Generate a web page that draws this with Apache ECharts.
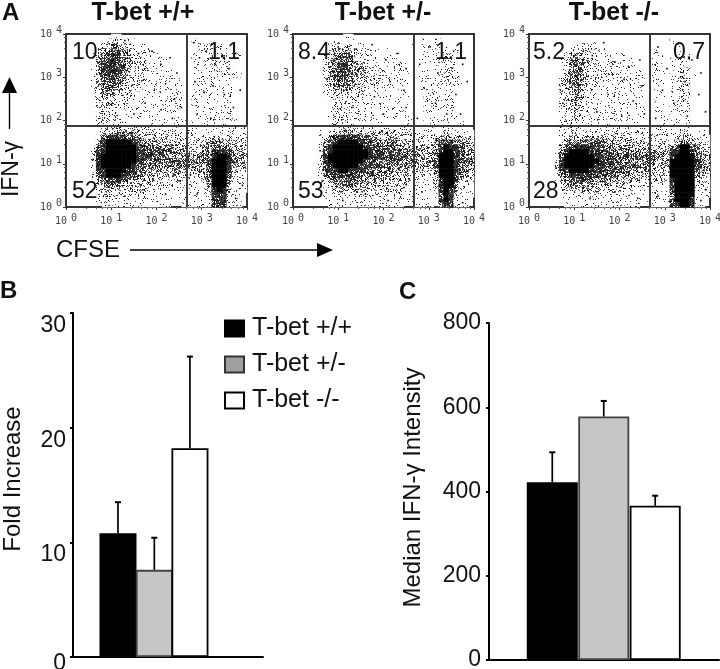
<!DOCTYPE html>
<html>
<head>
<meta charset="utf-8">
<style>html,body{margin:0;padding:0;background:#fff}#main{width:720px;height:669px}</style>
<script src="https://cdn.jsdelivr.net/npm/echarts@6/dist/echarts.min.js"></script>
</head>
<body>
<div id="main"></div>
<script>
// density, 36 x 36 cells, top row first, 0 = empty, 9 = solid black
let densityWT = [
"000000000110000000000000000000000000","000000012221110000000000010001000000",
"000000123443211100000000001111110000","000000245654311111000000011111111000",
"000001356765422111100000011111121110","000001467875422211110000011112211000",
"000001478876432211111000011112221000","000001478876432221111100011112211000",
"000001367765322211111100011111121110","000001356754322211111110011111111000",
"000001355653222111111110011111111000","000001245543222111111110011111111000",
"000001234432221111111110011111111000","000001233322211111111110011111011000",
"000001223322211111111110011110111000","000000222222111111111110001111111100",
"000000222221111111111110001111111000","000000222221111111111110001111111100",
"000000222221111111111111011111111100","000000123332222211111111111101111111",
"000000123344332222222222221111111111","000000268888654333332222112222223222",
"000000489999986544433332222234443332","000001689999998765544433322345654332",
"000002789999998766665544433457877443","000002899999998876665555544468998554",
"000002899999998766666666665579998654","000002899999987655555555554479998433",
"000001789999876544444444433369998322","000001589998765433333333322259997211",
"000000367776543333222222211259995111","000000245543333222222211111149994111",
"000000133332222222211111111138983111","000000123222222111111111111128882110",
"000000112221111111111111111117881110","000000011111111111111001111116771110"
];
let densityHet = [
"000000000011000000000000000000000000","000000001111110000000000010011000000",
"000000011222111000000001011111100000","000000012443211111100000011111111000",
"000000124654221111111000011111211000","000000135665322111111100011112221000",
"000000146775332211111110011112221000","000000247776433222111110011112331000",
"000000246775433222211110011112331000","000000246665333222111110011111221000",
"000000235554332221111110011111121100",
"000000134443222111111110011111110000","000000123332221111111110001111110000",
"000000022222211111111110001111110000","000000012222211111111110001111110000",
"000000012221111111111110001111110000","000000012221111111111110001111110000",
"000000012221111111111111001111111000","000000012221111111111111001111111100",
"000000012222211111111111011111111100","000001123344332222222221111111222111",
"000001247888876543333322222233443322","000001478999987655444333222245765432",
"000002689999998766555443333347987543","000002789999999876665544444458998654",
"000003899999999877666555444469998765","000003899999998777666655544469998765",
"000002789999987766655554443369998654","000002688998776655554443332259998543",
"000001467877665554443332222149997432","000001245666554443333222221138996211",
"000000134555443333322221111138995111","000000123333333322222211111128984111",
"000000122222222222211111111117983111","000000111111111111111111111117982110",
"000000011111111111111100111105871110"
];
let densityKO = [
"000000000000000000000000000000000000","000000000001010000000000000010000000",
"000000001111110000000000000001000000","000000012222111100000000010001100000",
"000000013432111111100000111001210000","000000124543121111111000111011210000",
"000000125653222221111100111011210000","000000125653222221111110111011320000",
"000000135653222221111110111011320100","000000235653222211111110111011320000",
"000000235643221111111110111011320000","000000234643211111111110111011310000",
"000000124532111111111110011011210000","000000123432111111111110011011210000",
"000000123322111111111110011011210000","000000122322111111111110011011210000",
"000000122322111111111110011011210000","000000122221111111111111011111110000",
"000000122221111111111111011111110000","000000122221111111111111111111210000",
"000000122222222222221111111111221110","000000123333333333322222222212332211",
"000000134556665443333332222213553221","000000367888776554444333322246996432",
"000001589999877665554444333378998543","000001799999988776665554443389999654",
"000002899999998776665555444399999764","000002899999988776665554443399999764",
"000001789999877665555444333299999653","000001578887766555444333332299999542",
"000001356665554444333322222189999321","000000244444433333322222111179999211",
"000000133333332222222111111179999111","000000122222222221111111111169999111",
"000000111111111111111111111169998110","000000011111111111111100111168998110"
];
// a few separate dots outside the clouds, log10 of CFSE and IFN-g
let straysWT = [[1.05,3.75],[1.3,3.85],[1.6,3.55],[1.9,3.6],[2.1,3.3],[2.3,3.45],[2.45,3.1],[2.2,2.85],[1.95,2.7],[2.4,2.5],[2.55,2.3],[2.1,2.25],[1.75,2.4],[1.5,2.15],[2.35,2.05],[2.82,3.8],[2.95,3.45],[3.1,3.6],[3.3,3.3],[3.45,3.5],[3.6,3.2],[3.75,3.55],[2.85,2.9],[3.05,2.65],[3.25,2.8],[3.5,2.6],[3.7,2.3],[2.9,2.15],[3.2,2.05],[3.85,2.7],[0.6,1.1],[0.7,0.55],[1.3,0.25],[1.7,0.4],[2.2,0.3],[2.5,0.6],[2.9,0.3],[3.9,0.5],[3.75,0.2],[2.75,0.75]];
let straysHet = [[1,3.7],[1.4,3.65],[1.75,3.75],[2.05,3.4],[2.3,3.55],[2.5,3.2],[2.15,2.9],[2.45,2.7],[1.8,2.55],[1.3,2.3],[2,2.15],[2.5,2.3],[0.75,2.95],[2.8,3.3],[3,3.7],[3.2,3.1],[3.4,3.45],[3.55,3.6],[3.75,3.3],[3.85,2.9],[2.9,2.75],[3.15,2.4],[3.4,2.15],[3.6,2.6],[3.7,2.15],[2.75,2.05],[0.6,1.3],[0.65,0.6],[1.1,0.15],[1.6,0.3],[2.1,0.15],[2.45,0.45],[2.85,0.35],[3.85,0.6],[3.95,1.1],[3.75,0.1]];
let straysKO = [[1.2,3.6],[1.65,3.8],[1.4,3.5],[1.9,3.35],[2.2,3.25],[2.45,3.4],[2.1,2.95],[2.5,2.8],[1.75,2.6],[2.3,2.45],[1.5,2.2],[2.05,2.1],[2.55,2.15],[0.75,2.4],[0.7,1.85],[2.85,3.7],[3.05,3.2],[3.25,3.5],[3.6,3.4],[3.8,3.1],[2.95,2.7],[3.2,2.4],[3.45,2.9],[3.75,2.6],[3.9,2.2],[3.5,2.1],[2.8,2.05],[0.6,0.9],[0.75,0.4],[1.35,0.2],[1.9,0.35],[2.4,0.2],[2.85,0.25],[3.9,0.4],[3.8,0.15],[2.7,0.55]];

let plotTitles = ['T-bet +/+', 'T-bet +/-', 'T-bet -/-'];
let quadrantLabels = [['10', '1.1', '52'], ['8.4', '1.1', '53'], ['5.2', '0.7', '28']];
let gateCFSE = 470;
let gateIFN = 74;

let groups = ['T-bet +/+', 'T-bet +/-', 'T-bet -/-'];
let foldIncrease = [10.8, 7.6, 18.2];
let foldError = [13.5, 10.4, 26.2];
let medianIntensity = [422, 578, 366];
let medianError = [493, 615, 390];
let barSlotsB = [1.25, 2.26, 3.25];
let barSlotsC = [1.23, 2.23, 3.23];

let chart = echarts.init(document.getElementById('main'));
let sans = '"Liberation Sans", Arial, sans-serif';
let plotLeft = [66, 293, 529];
let densities = [densityWT, densityHet, densityKO];
let strays = [straysWT, straysHet, straysKO];
let cells = [];
for (let i = 0; i < 36; i++) cells.push(i);

// grain for the density cells, only a fill texture: share of dark pixels per density level
let levelInk = [0, 0.07, 0.17, 0.3, 0.44, 0.57, 0.7, 0.82, 0.93, 1];
function grain(x, y) {
  let h = (x * 374761393 + y * 668265263) | 0;
  h = Math.imul(h ^ (h >>> 13), 1274126177);
  return ((h ^ (h >>> 16)) >>> 0) / 4294967296;
}
let levelFill = levelInk.map(function (ink) {
  let c = document.createElement('canvas');
  c.width = c.height = 128;
  let ctx = c.getContext('2d');
  ctx.fillStyle = '#fff';
  ctx.fillRect(0, 0, 128, 128);
  for (let x = 0; x < 128; x++) {
    for (let y = 0; y < 128; y++) {
      if (grain(x, y) < ink) {
        let g = ink === 1 ? 0 : Math.round(grain(y + 7, x + 3) * 90);
        ctx.fillStyle = 'rgb(' + g + ',' + g + ',' + g + ')';
        ctx.fillRect(x, y, 1, 1);
      }
    }
  }
  return {image: c, repeat: 'repeat'};
});

function logLabel(v) {
  return '{m|10}{e|' + Math.round(Math.log10(v)) + '}';
}
function logAxis(i, isX) {
  return {
    type: 'log', logBase: 10, min: 1, max: 10000, gridIndex: i,
    axisLine: {onZero: false, lineStyle: {color: '#333', width: 2}},
    axisTick: {show: true, length: 3, lineStyle: {color: '#333', width: 1}},
    minorTick: {show: true, length: 2, splitNumber: 5, lineStyle: {color: '#555'}},
    splitLine: {show: false},
    axisLabel: {
      formatter: logLabel,
      margin: isX ? 6 : 4,
      rich: {
        m: {fontFamily: '"DejaVu Sans Mono", monospace', fontSize: 10, color: '#444'},
        e: {fontFamily: '"DejaVu Sans Mono", monospace', fontSize: 10, color: '#444', padding: [0, 0, 7, 4]}
      }
    }
  };
}
function hiddenAxis(i) {
  return {type: 'category', data: cells, gridIndex: i, show: false};
}
function errorSeries(xi, yi, slots, tops, values, cap) {
  return {
    type: 'custom', xAxisIndex: xi, yAxisIndex: yi, z: 5, silent: true,
    data: slots.map(function (s, k) { return [s, values[k], tops[k]]; }),
    renderItem: function (params, api) {
      let a = api.coord([api.value(0), api.value(1)]);
      let b = api.coord([api.value(0), api.value(2)]);
      let st = {stroke: '#000', lineWidth: 1.7};
      return {type: 'group', children: [
        {type: 'line', shape: {x1: a[0], y1: a[1], x2: b[0], y2: b[1]}, style: st},
        {type: 'line', shape: {x1: b[0] - cap, y1: b[1], x2: b[0] + cap, y2: b[1]}, style: {stroke: '#000', lineWidth: 2}}
      ]};
    }
  };
}

let grids = [];
let xAxes = [];
let yAxes = [];
let series = [];
plotLeft.forEach(function (left, i) {
  grids.push({left: left, top: 34, width: 181, height: 173, show: true, borderColor: '#333', borderWidth: 2, outerBoundsMode: 'none'});
  xAxes.push(logAxis(i, true));
  yAxes.push(logAxis(i, false));
});
plotLeft.forEach(function (left, i) {
  xAxes.push(hiddenAxis(i));
  yAxes.push(hiddenAxis(i));
  let cellData = [];
  densities[i].forEach(function (row, r) {
    for (let c = 0; c < row.length; c++) {
      let d = +row[c];
      if (d > 0) cellData.push({value: [c, 35 - r, d], itemStyle: {color: levelFill[d]}});
    }
  });
  series.push({type: 'heatmap', xAxisIndex: i + 3, yAxisIndex: i + 3, data: cellData, silent: true, progressive: 0, z: 1});
  series.push({
    type: 'scatter', xAxisIndex: i, yAxisIndex: i, z: 2, silent: true,
    symbol: 'rect', symbolSize: 1.6, itemStyle: {color: '#000', opacity: 1},
    data: strays[i].map(function (p) { return [Math.pow(10, p[0]), Math.pow(10, p[1])]; }),
    markLine: {
      silent: true, symbol: 'none', label: {show: false}, animation: false, z: 3,
      lineStyle: {color: '#3a3a3a', width: 2, type: 'solid'},
      data: [{xAxis: gateCFSE}, {yAxis: gateIFN}]
    }
  });
});

// panel B and C bars
grids.push({left: 73, top: 313, width: 190, height: 344, outerBoundsMode: 'none'});
grids.push({left: 489, top: 323, width: 230, height: 337, outerBoundsMode: 'none'});
[[3, 5.28], [4, 4.47]].forEach(function (g) {
  xAxes.push({
    type: 'value', gridIndex: g[0], min: 0, max: g[1],
    axisLine: {show: true, onZero: false, lineStyle: {color: '#000', width: 2}},
    axisTick: {show: false}, axisLabel: {show: false}, splitLine: {show: false}
  });
});
yAxes.push({
  type: 'value', gridIndex: 3, min: 0, max: 30, interval: 10,
  name: 'Fold Increase', nameLocation: 'middle', nameGap: 48, nameRotate: 90,
  nameTextStyle: {fontFamily: sans, fontSize: 24, color: '#111', padding: [0, 0, 0, 12]},
  axisLine: {show: true, lineStyle: {color: '#000', width: 2}},
  axisTick: {show: true, length: 3, lineStyle: {color: '#000', width: 2}},
  minorTick: {show: true, splitNumber: 2, length: 1, lineStyle: {color: '#000'}},
  splitLine: {show: false},
  axisLabel: {
    margin: 7, verticalAlign: 'top',
    formatter: function (v) { return v === 0 ? '{z|0}' : '{a|' + v + '}'; },
    rich: {
      a: {fontFamily: sans, fontSize: 23, color: '#111', lineHeight: 25},
      z: {fontFamily: sans, fontSize: 23, color: '#111', lineHeight: 14}
    }
  }
});
yAxes.push({
  type: 'value', gridIndex: 4, min: 0, max: 800, interval: 200,
  name: 'Median IFN-γ Intensity', nameLocation: 'middle', nameGap: 64, nameRotate: 90,
  nameTextStyle: {fontFamily: sans, fontSize: 24, color: '#111', padding: [0, 0, 0, 8]},
  axisLine: {show: true, lineStyle: {color: '#000', width: 2}},
  axisTick: {show: true, length: 3, lineStyle: {color: '#000', width: 2}},
  splitLine: {show: false},
  axisLabel: {fontFamily: sans, fontSize: 23, color: '#111', margin: 8}
});

let barColors = ['#000', '#c6c6c6', '#fff'];
let barBorders = ['#000', '#444', '#000'];
[[6, barSlotsB, foldIncrease, 37], [7, barSlotsC, medianIntensity, 51]].forEach(function (b) {
  groups.forEach(function (name, k) {
    series.push({
      type: 'bar', name: name, xAxisIndex: b[0], yAxisIndex: b[0], barWidth: b[3], barGap: '-100%', z: 3,
      itemStyle: {color: barColors[k], borderColor: barBorders[k], borderWidth: 1.8},
      data: [[b[1][k], b[2][k]]]
    });
  });
});
series.push(errorSeries(6, 6, barSlotsB, foldError, foldIncrease, 3));
series.push(errorSeries(7, 7, barSlotsC, medianError, medianIntensity, 3));

// text and arrows that are not part of an axis
let texts = [];
function addText(t, x, y, size, bold, align, rot) {
  texts.push({
    type: 'text', x: x, y: y, rotation: rot || 0, z: 20, silent: true,
    style: {text: t, fontFamily: sans, fontSize: size, fontWeight: bold ? 'bold' : 'normal', fill: '#111', align: align || 'left', verticalAlign: 'middle'}
  });
}
addText('A', 2, 13, 24, true);
addText('B', 0, 291, 24, true);
addText('C', 399, 292, 24, true);
[143, 383, 614].forEach(function (x, i) { addText(plotTitles[i], x, 13, 25, true, 'center'); });
[[72, 208], [298, 435], [533, 673]].forEach(function (p, i) {
  addText(quadrantLabels[i][0], p[0], 53, 23);
  addText(quadrantLabels[i][1], p[1], 53, 23);
  addText(quadrantLabels[i][2], p[0], 192, 23);
});
addText('IFN-γ', 12, 169, 23, false, 'center', Math.PI / 2);
addText('CFSE', 56, 250, 24);
texts.push({type: 'line', shape: {x1: 130, y1: 250, x2: 322, y2: 250}, style: {stroke: '#000', lineWidth: 1.4}, silent: true});
texts.push({type: 'polygon', shape: {points: [[317, 243], [333, 250], [317, 257]]}, style: {fill: '#000'}, silent: true});
texts.push({type: 'line', shape: {x1: 9.5, y1: 129, x2: 9.5, y2: 90}, style: {stroke: '#000', lineWidth: 1.4}, silent: true});
texts.push({type: 'polygon', shape: {points: [[2, 93], [9.5, 77], [17, 93]]}, style: {fill: '#000'}, silent: true});

chart.setOption({
  animation: false,
  grid: grids,
  xAxis: xAxes,
  yAxis: yAxes,
  legend: {
    orient: 'vertical', left: 219, top: 311, itemWidth: 19, itemHeight: 16, itemGap: 11, selectedMode: false, icon: 'rect',
    textStyle: {fontFamily: sans, fontSize: 25, color: '#111', padding: [0, 0, 0, 3]},
    data: [
      {name: groups[0], itemStyle: {color: '#000'}},
      {name: groups[1], itemStyle: {color: '#a0a0a0', borderColor: '#333'}},
      {name: groups[2], itemStyle: {color: '#fff', borderColor: '#000'}}
    ]
  },
  graphic: texts,
  series: series
});
</script>
</body>
</html>
